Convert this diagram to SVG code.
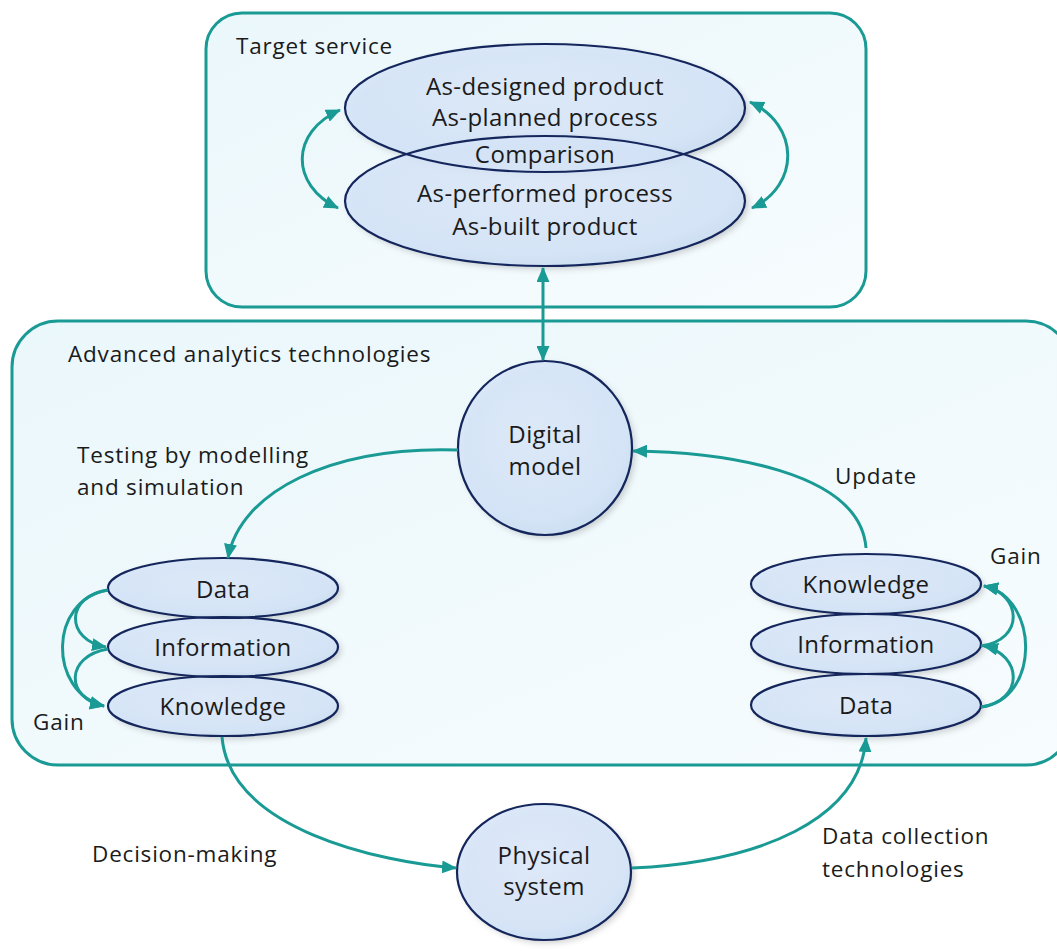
<svg xmlns="http://www.w3.org/2000/svg" width="1057" height="951" viewBox="0 0 1057 951">
<defs>
  <style>
    .cont { fill: url(#contGrad); stroke: #1a9a94; stroke-width: 3; }
    .node { fill: url(#nodeGrad); fill-opacity: 0.85; stroke: none; filter: url(#shadow); }
    .edge { fill: none; stroke: #14265c; stroke-width: 2.2; }
    .conn { fill: none; stroke: #1a9a94; stroke-width: 3; }
    text { font-family: "Open Sans", "Liberation Sans", sans-serif; fill: #1b1b1b; }
    .lbl { font-size: 22.5px; letter-spacing: 0.8px; }
    .nt { font-size: 24px; letter-spacing: 0.4px; text-anchor: middle; }
  </style>
  <linearGradient id="contGrad" x1="0" y1="0" x2="1" y2="1">
    <stop offset="0" stop-color="#eaf7fb"/>
    <stop offset="1" stop-color="#f7fcfe"/>
  </linearGradient>
  <radialGradient id="nodeGrad" cx="0.45" cy="0.4" r="0.65">
    <stop offset="0" stop-color="#dde9fa"/>
    <stop offset="0.8" stop-color="#d3e4f8"/>
    <stop offset="1" stop-color="#c6daf3"/>
  </radialGradient>
  <filter id="shadow" x="-20%" y="-20%" width="140%" height="140%">
    <feDropShadow dx="3" dy="3" stdDeviation="3" flood-color="#000" flood-opacity="0.22"/>
  </filter>
  <marker id="ah" viewBox="0 0 15 13" refX="14" refY="6.5" markerWidth="15" markerHeight="13" markerUnits="userSpaceOnUse" orient="auto-start-reverse">
    <path d="M0,0 L15,6.5 L0,13 Z" fill="#1a9a94"/>
  </marker>
</defs>

<g id="target-service">
  <rect class="cont" x="206" y="13" width="660" height="294" rx="36" ry="36"/>
  <text class="lbl" x="236" y="54">Target service</text>
</g>

<g id="advanced-analytics">
  <rect class="cont" x="12" y="321" width="1060" height="444" rx="46" ry="46"/>
  <text class="lbl" x="68" y="362">Advanced analytics technologies</text>
</g>

<g id="top-ellipses">
  <ellipse class="node" cx="545" cy="108" rx="200" ry="64"/>
  <ellipse class="node" cx="545" cy="201" rx="200" ry="65"/>
  <ellipse class="edge" cx="545" cy="108" rx="200" ry="64"/>
  <ellipse class="edge" cx="545" cy="201" rx="200" ry="65"/>
  <text class="nt" x="545" y="95">As-designed product</text>
  <text class="nt" x="545" y="126">As-planned process</text>
  <text class="nt" x="545" y="163">Comparison</text>
  <text class="nt" x="545" y="202">As-performed process</text>
  <text class="nt" x="545" y="235">As-built product</text>
</g>

<g id="digital-model">
  <circle class="node" cx="545" cy="448" r="87"/>
  <circle class="edge" cx="545" cy="448" r="87"/>
  <text class="nt" x="545" y="443">Digital</text>
  <text class="nt" x="545" y="475">model</text>
</g>

<g id="left-stack">
  <ellipse class="node" cx="223" cy="588" rx="115" ry="30"/>
  <ellipse class="node" cx="223" cy="647" rx="115" ry="30"/>
  <ellipse class="node" cx="223" cy="706" rx="115" ry="30"/>
  <ellipse class="edge" cx="223" cy="588" rx="115" ry="30"/>
  <ellipse class="edge" cx="223" cy="647" rx="115" ry="30"/>
  <ellipse class="edge" cx="223" cy="706" rx="115" ry="30"/>
  <text class="nt" x="223" y="598">Data</text>
  <text class="nt" x="223" y="656">Information</text>
  <text class="nt" x="223" y="715">Knowledge</text>
  <text class="lbl" x="33" y="730">Gain</text>
</g>

<g id="right-stack">
  <ellipse class="node" cx="866" cy="584" rx="115" ry="30"/>
  <ellipse class="node" cx="866" cy="644" rx="115" ry="30"/>
  <ellipse class="node" cx="866" cy="705" rx="115" ry="31"/>
  <ellipse class="edge" cx="866" cy="584" rx="115" ry="30"/>
  <ellipse class="edge" cx="866" cy="644" rx="115" ry="30"/>
  <ellipse class="edge" cx="866" cy="705" rx="115" ry="31"/>
  <text class="nt" x="866" y="593">Knowledge</text>
  <text class="nt" x="866" y="653">Information</text>
  <text class="nt" x="866" y="714">Data</text>
  <text class="lbl" x="990" y="564">Gain</text>
</g>

<g id="physical-system">
  <ellipse class="node" cx="544" cy="872" rx="87" ry="68"/>
  <ellipse class="edge" cx="544" cy="872" rx="87" ry="68"/>
  <text class="nt" x="544" y="864">Physical</text>
  <text class="nt" x="544" y="895">system</text>
</g>

<g id="labels">
  <text class="lbl" x="77" y="463">Testing by modelling</text>
  <text class="lbl" x="77" y="495">and simulation</text>
  <text class="lbl" x="835" y="484">Update</text>
  <text class="lbl" x="92" y="862">Decision-making</text>
  <text class="lbl" x="822" y="844">Data collection</text>
  <text class="lbl" x="822" y="877">technologies</text>
</g>

<g id="connectors">
  <path class="conn" d="M340,110 C290,132 290,185 338,208" marker-start="url(#ah)" marker-end="url(#ah)"/>
  <path class="conn" d="M750,102 C800,125 800,185 752,208" marker-start="url(#ah)" marker-end="url(#ah)"/>
  <path class="conn" d="M543,268 L543,360" marker-start="url(#ah)" marker-end="url(#ah)"/>
  <path class="conn" d="M458,450 C330,446 240,492 228,558" marker-end="url(#ah)"/>
  <path class="conn" d="M866,548 C860,470 720,452 633,451" marker-end="url(#ah)"/>
  <path class="conn" d="M108,590 C65,596 65,640 106,647" marker-end="url(#ah)"/>
  <path class="conn" d="M108,590 C48,600 48,692 104,706" marker-end="url(#ah)"/>
  <path class="conn" d="M108,649 C65,656 65,698 104,706" marker-end="url(#ah)"/>
  <path class="conn" d="M981,707 C1040,700 1040,598 984,586" marker-end="url(#ah)"/>
  <path class="conn" d="M981,707 C1025,700 1022,655 984,646" marker-end="url(#ah)"/>
  <path class="conn" d="M981,646 C1025,640 1022,594 984,586" marker-end="url(#ah)"/>
  <path class="conn" d="M222,737 C230,830 380,862 456,868" marker-end="url(#ah)"/>
  <path class="conn" d="M632,868 C760,862 860,820 866,738" marker-end="url(#ah)"/>
</g>
</svg>
